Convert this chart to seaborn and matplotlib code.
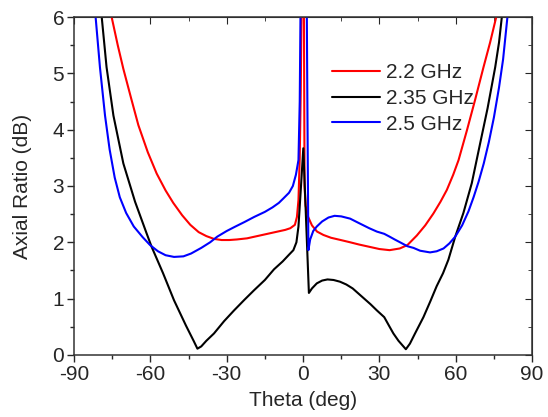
import pandas as pd
import matplotlib.pyplot as plt
import numpy as np
import seaborn as sns

# valeurs (points au-dessus de 6 coupés par ylim)
theta_22 = [-77.0, -75.2, -72.8, -70.6, -67.5, -64.7, -61.0, -57.5, -54.0, -51.0, -47.5,
            -44.3, -41.0, -38.0, -35.0, -32.0, -29.0, -26.0, -22.0, -18.0, -14.0, -10.0,
            -7.0, -5.0, -3.2, -2.4, -1.8, -1.3, -0.9, -0.5, 0.3, 0.6, 1.0, 2.0, 3.5, 5.5,
            8.0, 11.0, 14.8, 18.5, 22.0, 26.0, 30.0, 34.0, 38.0, 41.0, 44.7, 48.0, 51.2,
            54.0, 56.5, 59.0, 61.1, 64.4, 67.6, 70.9, 73.5, 75.9, 77.3]
ar_22 = [6.5, 6.0, 5.5, 5.08, 4.55, 4.08, 3.6, 3.22, 2.92, 2.70, 2.48,
         2.31, 2.18, 2.11, 2.06, 2.04, 2.04, 2.05, 2.07, 2.11, 2.15, 2.19,
         2.22, 2.25, 2.31, 2.45, 2.75, 3.5, 4.7, 6.6, 6.6, 3.0, 2.65, 2.45, 2.30, 2.19,
         2.13, 2.08, 2.04, 2.00, 1.96, 1.92, 1.88, 1.86, 1.89, 1.95, 2.12, 2.30, 2.51,
         2.72, 2.93, 3.20, 3.46, 3.99, 4.53, 5.11, 5.55, 6.0, 6.4]

theta_235 = [-80.3, -79.1, -77.2, -74.5, -70.6, -66.0, -61.4, -59.5, -55.0, -50.7, -46.0,
             -43.0, -41.5, -40.0, -38.0, -35.0, -31.0, -27.1, -23.0, -19.2, -15.0, -11.4,
             -8.0, -5.5, -3.8, -2.6, -1.8, -0.8, 0.1, 2.3, 3.5, 5.4, 7.5, 9.6, 12.0, 14.5,
             17.0, 19.5, 21.5, 24.0, 26.5, 29.0, 31.9, 34.0, 35.5, 37.5, 40.4, 42.0, 44.0,
             47.3, 50.0, 52.5, 55.0, 57.1, 59.8, 63.0, 66.3, 69.6, 72.5, 75.5, 77.0, 78.1,
             79.0]
ar_235 = [6.5, 6.0, 5.11, 4.25, 3.40, 2.72, 2.15, 1.92, 1.45, 0.97, 0.52,
          0.25, 0.11, 0.15, 0.25, 0.38, 0.60, 0.79, 0.98, 1.15, 1.33, 1.52,
          1.66, 1.78, 1.86, 2.00, 2.28, 3.00, 3.67, 1.10, 1.18, 1.27, 1.32, 1.34, 1.33, 1.30,
          1.25, 1.18, 1.10, 1.00, 0.90, 0.79, 0.67, 0.50, 0.38, 0.25, 0.10, 0.20, 0.38,
          0.67, 0.95, 1.22, 1.45, 1.69, 2.10, 2.52, 3.05, 3.76, 4.38, 5.11, 5.55, 6.0,
          6.3]

theta_25 = [-82.5, -81.5, -79.8, -77.8, -76.0, -74.0, -72.0, -69.5, -66.5, -63.0, -60.1,
            -57.0, -54.0, -50.7, -47.0, -44.0, -40.0, -36.5, -33.7, -30.0, -27.0, -23.0,
            -19.2, -15.0, -12.0, -9.5, -7.7, -5.5, -4.0, -2.8, -1.8, -1.3, -0.9, 1.4, 1.7,
            2.1, 2.8, 4.0, 5.4, 7.5, 10.0, 12.4, 15.0, 18.5, 22.0, 26.0, 29.0, 31.9, 34.0,
            36.0, 38.1, 41.0, 43.4, 46.0, 49.9, 52.5, 55.2, 57.5, 59.8, 62.5, 65.0, 67.0,
            69.0, 71.0, 73.0, 75.0, 77.0, 78.6, 80.3, 81.0]
ar_25 = [6.6, 6.0, 5.11, 4.25, 3.65, 3.15, 2.80, 2.52, 2.28, 2.09, 1.95,
         1.84, 1.77, 1.74, 1.75, 1.80, 1.90, 2.00, 2.10, 2.20, 2.27, 2.36,
         2.45, 2.54, 2.62, 2.70, 2.78, 2.88, 3.00, 3.20, 3.46, 4.50, 6.60, 6.60, 4.50,
         1.86, 2.05, 2.20, 2.28, 2.37, 2.44, 2.47, 2.46, 2.42, 2.34, 2.25, 2.19, 2.15, 2.10,
         2.05, 2.00, 1.93, 1.90, 1.85, 1.82, 1.84, 1.89, 1.98, 2.10, 2.30, 2.55, 2.80,
         3.08, 3.40, 3.78, 4.22, 4.75, 5.25, 6.00, 6.30]

labels = ["2.2 GHz", "2.35 GHz", "2.5 GHz"]
couleurs = ["#ff0000", "#000000", "#0000ff"]

df = pd.concat([
    pd.DataFrame({"Theta": theta_22, "AR": ar_22, "Freq": labels[0]}),
    pd.DataFrame({"Theta": theta_235, "AR": ar_235, "Freq": labels[1]}),
    pd.DataFrame({"Theta": theta_25, "AR": ar_25, "Freq": labels[2]}),
])

sns.set_style("ticks")
plt.rcParams["font.family"] = ["Liberation Sans", "DejaVu Sans"]
plt.rcParams["axes.unicode_minus"] = False

fig = plt.figure(figsize=(5.48, 4.17), dpi=100)
ax = fig.add_axes([0.135, 0.149, 0.836, 0.810])

sns.lineplot(data=df, x="Theta", y="AR", hue="Freq", palette=couleurs,
             estimator=None, sort=False, linewidth=1.5, ax=ax)

ax.set_xlim(-90, 90)
ax.set_ylim(0, 6)
ax.set_xticks(np.arange(-90, 91, 30))
ax.set_xticks(np.arange(-75, 90, 30), minor=True)
ax.set_yticks(np.arange(0, 7, 1))
ax.set_yticks(np.arange(0.5, 6, 1), minor=True)
ax.tick_params(which="major", direction="out", length=5, width=1, labelsize=15, pad=2)
ax.tick_params(which="minor", direction="out", length=3, width=1)

for s in ax.spines.values():
    s.set_linewidth(1.1)
    s.set_color("#333333")

top = ax.secondary_xaxis("top")
top.set_xticks(np.arange(-90, 91, 30))
top.set_xticks(np.arange(-75, 90, 30), minor=True)
top.tick_params(which="major", direction="in", length=5, labeltop=False)
top.tick_params(which="minor", direction="in", length=3)
right = ax.secondary_yaxis("right")
right.set_yticks(np.arange(0, 7, 1))
right.set_yticks(np.arange(0.5, 6, 1), minor=True)
right.tick_params(which="major", direction="in", length=5, labelright=False)
right.tick_params(which="minor", direction="in", length=3)

ax.set_xlabel("Theta (deg)", fontsize=15, labelpad=5)
ax.set_ylabel("Axial Ratio (dB)", fontsize=15, labelpad=15)

ax.legend(loc="upper left", bbox_to_anchor=(0.606, 0.848), bbox_transform=fig.transFigure,
          frameon=False, fontsize=15, handlelength=2.3, handletextpad=0.3,
          labelspacing=0.32, borderpad=0, borderaxespad=0, title=None)

fig.savefig("out.png", dpi=100)
